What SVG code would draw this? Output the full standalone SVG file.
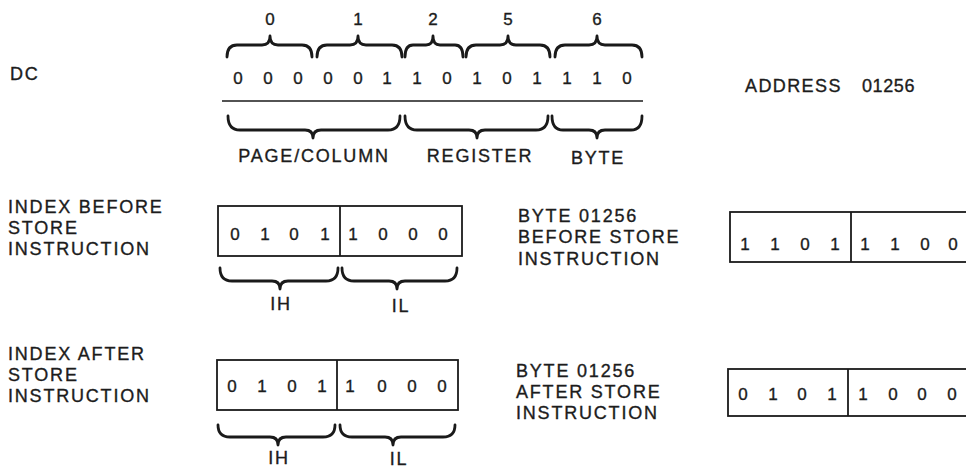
<svg xmlns="http://www.w3.org/2000/svg" width="966" height="470" viewBox="0 0 966 470">
<style>
text{font-family:"Liberation Sans",Arial,Helvetica,sans-serif;fill:#1c1c1c;stroke:#1c1c1c;stroke-width:0.35;}
.lbl{font-size:18px;letter-spacing:1.8px;}
.num{font-size:17px;text-anchor:middle;}
.brace{fill:none;stroke:#1a1a1a;stroke-width:2.8;stroke-linejoin:round;stroke-linecap:round;}
.box{fill:none;stroke:#1a1a1a;stroke-width:1.8;}
</style>
<rect width="966" height="470" fill="#fff"/>

<g id="dc">
  <text class="lbl" x="10" y="80">DC</text>
  <g id="dc-top-labels">
    <text class="num" x="270" y="25">0</text>
    <text class="num" x="358" y="25">1</text>
    <text class="num" x="433" y="25">2</text>
    <text class="num" x="508" y="25">5</text>
    <text class="num" x="597" y="25">6</text>
  </g>
  <g id="dc-bits">
    <text class="num" x="238" y="84">0</text>
    <text class="num" x="268" y="84">0</text>
    <text class="num" x="298" y="84">0</text>
    <text class="num" x="328" y="84">0</text>
    <text class="num" x="358" y="84">0</text>
    <text class="num" x="387" y="84">1</text>
    <text class="num" x="417" y="84">1</text>
    <text class="num" x="447" y="84">0</text>
    <text class="num" x="477" y="84">1</text>
    <text class="num" x="507" y="84">0</text>
    <text class="num" x="537" y="84">1</text>
    <text class="num" x="567" y="84">1</text>
    <text class="num" x="597" y="84">1</text>
    <text class="num" x="627" y="84">0</text>
  </g>
  <line x1="222" y1="101" x2="643" y2="101" stroke="#1a1a1a" stroke-width="1.6"/>
  <text class="lbl" x="314" y="162" text-anchor="middle">PAGE/COLUMN</text>
  <text class="lbl" x="480" y="162" text-anchor="middle">REGISTER</text>
  <text class="lbl" x="598" y="164" text-anchor="middle">BYTE</text>
</g>

<g id="address">
  <text class="lbl" x="745" y="92" style="letter-spacing:1.4px">ADDRESS</text>
  <text class="lbl" x="862" y="92" style="letter-spacing:0.6px">01256</text>
</g>

<g id="index-before">
  <text class="lbl" x="8" y="213">INDEX BEFORE</text>
  <text class="lbl" x="8" y="234">STORE</text>
  <text class="lbl" x="8" y="255">INSTRUCTION</text>
  <rect class="box" x="218" y="206" width="244" height="50"/>
  <line class="box" x1="340" y1="206" x2="340" y2="256"/>
  <text class="num" x="235" y="240">0</text>
  <text class="num" x="265" y="240">1</text>
  <text class="num" x="294" y="240">0</text>
  <text class="num" x="325" y="240">1</text>
  <text class="num" x="353" y="240">1</text>
  <text class="num" x="383" y="240">0</text>
  <text class="num" x="413" y="240">0</text>
  <text class="num" x="443" y="240">0</text>
  <text class="lbl" x="281" y="310" text-anchor="middle">IH</text>
  <text class="lbl" x="401" y="312" text-anchor="middle">IL</text>
</g>

<g id="byte-before">
  <text class="lbl" x="518" y="222">BYTE 01256</text>
  <text class="lbl" x="518" y="243">BEFORE STORE</text>
  <text class="lbl" x="518" y="265">INSTRUCTION</text>
  <rect class="box" x="730" y="212" width="260" height="50"/>
  <line class="box" x1="851" y1="212" x2="851" y2="262"/>
  <text class="num" x="745" y="250">1</text>
  <text class="num" x="775" y="250">1</text>
  <text class="num" x="805" y="250">0</text>
  <text class="num" x="835" y="250">1</text>
  <text class="num" x="865" y="250">1</text>
  <text class="num" x="895" y="250">1</text>
  <text class="num" x="925" y="250">0</text>
  <text class="num" x="953" y="250">0</text>
</g>

<g id="index-after">
  <text class="lbl" x="8" y="360">INDEX AFTER</text>
  <text class="lbl" x="8" y="381">STORE</text>
  <text class="lbl" x="8" y="402">INSTRUCTION</text>
  <rect class="box" x="217" y="360" width="241" height="50"/>
  <line class="box" x1="337" y1="360" x2="337" y2="410"/>
  <text class="num" x="232" y="392">0</text>
  <text class="num" x="262" y="392">1</text>
  <text class="num" x="292" y="392">0</text>
  <text class="num" x="322" y="392">1</text>
  <text class="num" x="350" y="392">1</text>
  <text class="num" x="382" y="392">0</text>
  <text class="num" x="412" y="392">0</text>
  <text class="num" x="442" y="392">0</text>
  <text class="lbl" x="279" y="464" text-anchor="middle">IH</text>
  <text class="lbl" x="399" y="465" text-anchor="middle">IL</text>
</g>

<g id="byte-after">
  <text class="lbl" x="516" y="377">BYTE 01256</text>
  <text class="lbl" x="516" y="398">AFTER STORE</text>
  <text class="lbl" x="516" y="419">INSTRUCTION</text>
  <rect class="box" x="728" y="369" width="260" height="47"/>
  <line class="box" x1="848" y1="369" x2="848" y2="416"/>
  <text class="num" x="743" y="400">0</text>
  <text class="num" x="773" y="400">1</text>
  <text class="num" x="802" y="400">0</text>
  <text class="num" x="832" y="400">1</text>
  <text class="num" x="863" y="400">1</text>
  <text class="num" x="893" y="400">0</text>
  <text class="num" x="922" y="400">0</text>
  <text class="num" x="952" y="400">0</text>
</g>

<g id="connectors">
  <!-- top braces (tip up) -->
  <path class="brace" d="M227,57 Q227,45 237,45 L262,45 Q270,45 270,36 Q270,45 278,45 L302,45 Q312,45 312,57"/>
  <path class="brace" d="M317,57 Q317,45 327,45 L350,45 Q358,45 358,36 Q358,45 366,45 L392,45 Q402,45 402,57"/>
  <path class="brace" d="M405,57 Q405,45 413,45 L426,45 Q433,45 433,36 Q433,45 440,45 L455,45 Q463,45 463,57"/>
  <path class="brace" d="M466,57 Q466,45 476,45 L500,45 Q508,45 508,36 Q508,45 516,45 L540,45 Q550,45 550,57"/>
  <path class="brace" d="M555,57 Q555,45 565,45 L589,45 Q597,45 597,36 Q597,45 605,45 L632,45 Q642,45 642,57"/>
  <!-- DC bottom braces (tip down) -->
  <path class="brace" d="M228,116 Q228,130 240,130 L305,130 Q313,130 313,138 Q313,130 321,130 L388,130 Q400,130 400,116"/>
  <path class="brace" d="M405,116 Q405,130 417,130 L469,130 Q477,130 477,138 Q477,130 485,130 L536,130 Q548,130 548,116"/>
  <path class="brace" d="M552,116 Q552,130 563,130 L589,130 Q597,130 597,138 Q597,130 605,130 L631,130 Q642,130 642,116"/>
  <!-- index before braces -->
  <path class="brace" d="M220,268 Q220,281 232,281 L272,281 Q280,281 280,289 Q280,281 288,281 L326,281 Q338,281 338,268"/>
  <path class="brace" d="M342,268 Q342,281 354,281 L389,281 Q397,281 397,289 Q397,281 405,281 L445,281 Q457,281 457,268"/>
  <!-- index after braces -->
  <path class="brace" d="M218,425 Q218,437 230,437 L270,437 Q278,437 278,445 Q278,437 286,437 L323,437 Q335,437 335,425"/>
  <path class="brace" d="M340,425 Q340,437 352,437 L385,437 Q393,437 393,445 Q393,437 401,437 L443,437 Q455,437 455,425"/>
</g>
</svg>
